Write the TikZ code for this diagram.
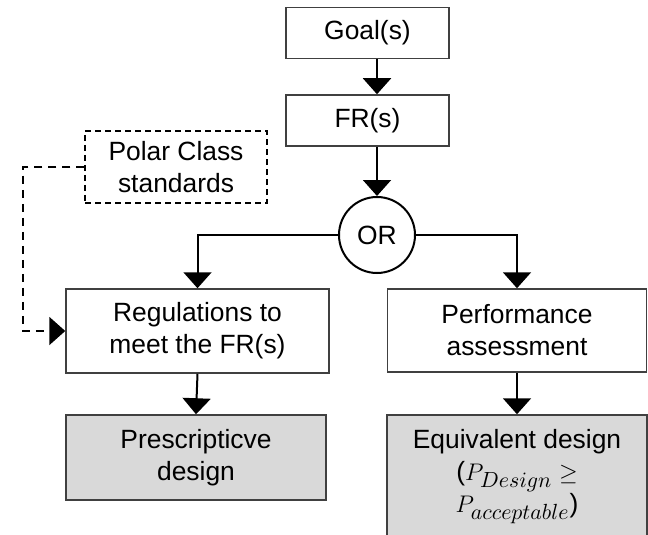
\documentclass[tikz,border=0pt]{standalone}
\usepackage{fontspec}
\setmainfont{Liberation Sans}
\DeclareMathSizes{13.2}{13.2}{10.5}{8}
\usetikzlibrary{arrows.meta,positioning,calc}

\begin{document}
\begin{tikzpicture}[x=0.5pt,y=-0.5pt,
    box/.style={draw=black!75,line width=0.75pt,align=center,inner sep=0pt,
      font=\fontsize{13.2}{16}\selectfont},
    shaded/.style={box,fill=black!15},
    dashbox/.style={box,draw=black,dash pattern=on 3pt off 2pt},
    orgate/.style={box,draw=black,line width=1pt,circle,minimum size=38pt},
    flow/.style={line width=1pt,-{Triangle[width=14pt,length=8pt]}},
    dashflow/.style={flow,dash pattern=on 4pt off 3pt}]
    \useasboundingbox (0,0) rectangle (648,535);
    % Main chain
    \node[box,minimum width=81.5pt,minimum height=25.5pt] (goal) at (367.5,33) {Goal(s)};
    \node[box,minimum width=81.5pt,minimum height=25.5pt] (fr) at (367.5,120.5) {FR(s)};
    \node[orgate] (or) at (377,235) {OR};
    \node[dashbox,minimum width=91pt,minimum height=36pt] (polar) at (176,167) {Polar Class\\standards};
    % Two routes
    \node[box,minimum width=131.5pt,minimum height=42pt] (reg) at (197.5,331) {Regulations to\\meet the FR(s)};
    \node[box,minimum width=129.5pt,minimum height=41.5pt] (perf) at (517,330.5) {Performance\\assessment};
    \node[shaded,minimum width=130pt,minimum height=42.5pt] (pres) at (196,457.5) {Prescripticve\\design};
    \node[shaded,minimum width=130pt,minimum height=62pt] (equiv) at (517,477)
      {Equivalent design\\($P_{Design}\geq$\\$P_{acceptable}$)};
    % Arrows
    \coordinate (bend) at (23,250);
    \draw[flow] (goal.south -| or) -- (fr.north -| or);
    \draw[flow] (fr.south -| or) -- (or.north);
    \draw[flow] (or.west) -| (reg.north);
    \draw[flow] (or.east) -| (perf.north);
    \draw[flow] (reg.south) -- (pres.north);
    \draw[flow] (perf.south) -- (equiv.north);
    \draw[dashflow] (polar.west) -| (bend) |- (reg.west);
\end{tikzpicture}
\end{document}
